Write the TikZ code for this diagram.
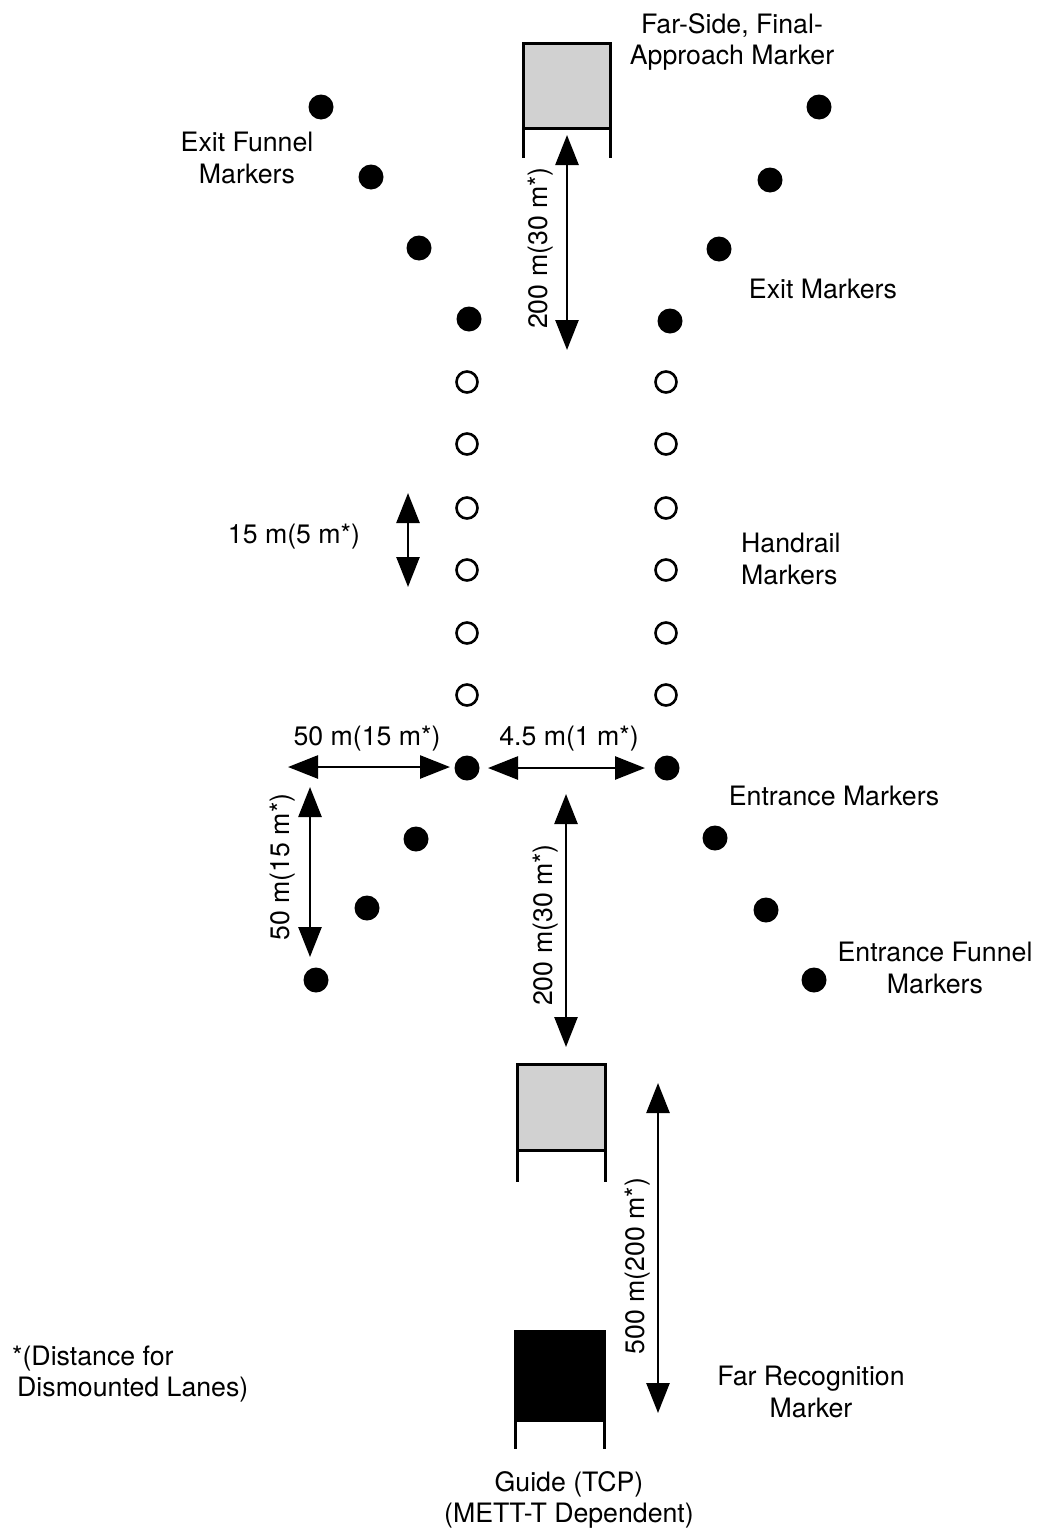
\documentclass[tikz,border=0pt]{standalone}
\usepackage{fontspec}
\setmainfont{TeX Gyre Heros}
\usetikzlibrary{arrows.meta}
\begin{document}
\begin{tikzpicture}[x=1pt,y=-1pt,
  fdot/.style={circle,fill=black,inner sep=0pt,minimum size=25pt},
  odot/.style={circle,draw=black,line width=2.6pt,inner sep=0pt,minimum size=21pt},
  dim/.style={line width=2.6pt,{Triangle[length=30pt,width=23pt]}-{Triangle[length=30pt,width=23pt]}},
  lbl/.style={font=\fontsize{26.7}{31.5}\selectfont,inner sep=0pt},
  marker/.style={draw=black,line width=3pt,inner sep=0pt,outer sep=0pt},
  leg/.style={line width=3pt}]
\useasboundingbox (0,0) rectangle (1038,1531);

% markers (boxes)
\node[marker,fill=black!18,minimum width=87pt,minimum height=85pt] (fsm) at (566.5,85.5) {};
\draw[leg] (fsm.south west) -- ++(0,30) (fsm.south east) -- ++(0,30);
\node[marker,fill=black!18,minimum width=88pt,minimum height=86pt] (nrm) at (561,1107) {};
\draw[leg] (nrm.south west) -- ++(0,32) (nrm.south east) -- ++(0,32);
\node[marker,fill=black,minimum width=89pt,minimum height=89pt] (frm) at (559.5,1375.5) {};
\draw[leg] (frm.south west) -- ++(0,29) (frm.south east) -- ++(0,29);

% exit funnel and exit markers
\node[fdot] (xl1) at (321,107) {};
\node[fdot] (xl2) at (371,177) {};
\node[fdot] (xl3) at (419,248) {};
\node[fdot] (xl4) at (469,319) {};
\node[fdot] (xr1) at (819,107) {};
\node[fdot] (xr2) at (770,180) {};
\node[fdot] (xr3) at (719,249) {};
\node[fdot] (xr4) at (670,321) {};

% handrail markers
\foreach \i/\y in {1/382,2/444,3/508,4/570,5/633,6/695}{
  \node[odot] (hl\i) at (467,\y) {};
  \node[odot] (hr\i) at (666,\y) {};
}

% entrance markers and entrance funnel
\node[fdot] (el) at (467,768) {};
\node[fdot] (er) at (667,768) {};
\node[fdot] (nl1) at (416,839) {};
\node[fdot] (nl2) at (367,908) {};
\node[fdot] (nl3) at (316,980) {};
\node[fdot] (nr1) at (715,838) {};
\node[fdot] (nr2) at (766,910) {};
\node[fdot] (nr3) at (814,980) {};

% dimension arrows
\coordinate (d1a) at (567,135); \coordinate (d1b) at (567,350);
\draw[dim] (d1a) -- (d1b);
\coordinate (d2a) at (408,493); \coordinate (d2b) at (408,587);
\draw[dim] (d2a) -- (d2b);
\coordinate (d3a) at (288,767); \coordinate (d3b) at (450,767);
\draw[dim] (d3a) -- (d3b);
\coordinate (d4a) at (488,768); \coordinate (d4b) at (645,768);
\draw[dim] (d4a) -- (d4b);
\coordinate (d5a) at (310,787); \coordinate (d5b) at (310,957);
\draw[dim] (d5a) -- (d5b);
\coordinate (d6a) at (566,794); \coordinate (d6b) at (566,1047);
\draw[dim] (d6a) -- (d6b);
\coordinate (d7a) at (658,1083); \coordinate (d7b) at (658,1413);
\draw[dim] (d7a) -- (d7b);

% labels
\node[lbl,align=center] (tfs) at (732,42) {Far-Side, Final-\\Approach Marker};
\node[lbl,align=center] (tef) at (247,158) {Exit Funnel\\Markers};
\node[lbl,anchor=base] (tem) at (823,298) {Exit Markers};
\node[lbl,anchor=base] (t15) at (294,543) {15 m(5 m*)};
\node[lbl,align=left,anchor=west] (thm) at (741,559) {Handrail\\Markers};
\node[lbl,anchor=base] (t50h) at (367,745) {50 m(15 m*)};
\node[lbl,anchor=base] (t45) at (569,745) {4.5 m(1 m*)};
\node[lbl,anchor=base] (tenm) at (834,805) {Entrance Markers};
\node[lbl,align=center] (tenf) at (935,968) {Entrance Funnel\\Markers};
\node[lbl,align=left,anchor=west] (tds) at (12,1374) {*(Distance for\\\hspace*{5pt}Dismounted Lanes)};
\node[lbl,align=center] (tfr) at (811,1392) {Far Recognition\\Marker};
\node[lbl,align=center] (tgd) at (569,1500) {Guide (TCP)\\(METT-T Dependent)};
\node[lbl,rotate=90] (t200a) at (541,248) {200 m(30 m*)};
\node[lbl,rotate=90] (t50v) at (283,867) {50 m(15 m*)};
\node[lbl,rotate=90] (t200b) at (546,925) {200 m(30 m*)};
\node[lbl,rotate=90] (t500) at (638,1266) {500 m(200 m*)};
\end{tikzpicture}
\end{document}
